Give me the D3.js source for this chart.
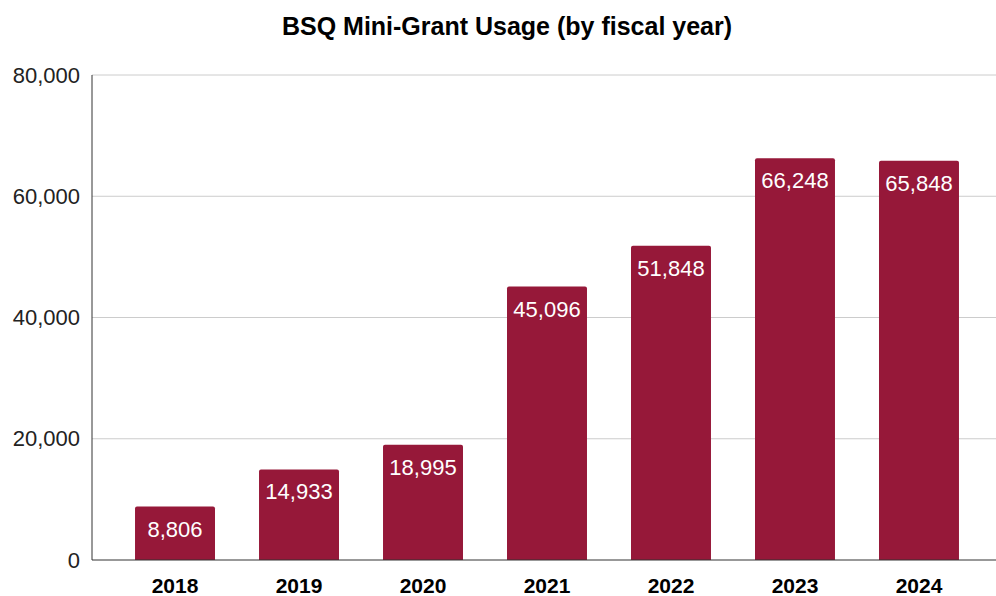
<!DOCTYPE html>
<html lang="en">
<head>
<meta charset="UTF-8"/>
<title>BSQ Mini-Grant Usage</title>
<script src="https://d3js.org/d3.v7.min.js"></script>
<style>
    body { margin: 0; background: #fff; }
    text { font-family: "Liberation Sans", Arial, sans-serif; }
</style>
</head>
<body>
<script>
    var years = ["2018", "2019", "2020", "2021", "2022", "2023", "2024"];
    var usage = [8806, 14933, 18995, 45096, 51848, 66248, 65848];
    var yTicks = [0, 20000, 40000, 60000, 80000];

    var w = 996, h = 596;
    var plotLeft = 92, plotTop = 75, plotBottom = 560;

    var svg = d3.select("body").append("svg")
        .attr("width", w)
        .attr("height", h);

    var x = d3.scaleBand()
        .domain(years)
        .range([plotLeft, 1002])
        .paddingInner(0.355)
        .paddingOuter(0.347);

    var y = d3.scaleLinear()
        .domain([0, 80000])
        .range([plotBottom, plotTop]);

    var fmt = d3.format(",");

    // title
    svg.append("text")
        .attr("x", 507)
        .attr("y", 35)
        .attr("text-anchor", "middle")
        .style("font-weight", "bold")
        .style("font-size", "25px")
        .text("BSQ Mini-Grant Usage (by fiscal year)");

    // gridlines
    svg.selectAll(".grid")
        .data(yTicks.filter(function(d) { return d > 0; }))
        .enter().append("line")
        .attr("x1", plotLeft).attr("x2", w)
        .attr("y1", function(d) { return y(d); })
        .attr("y2", function(d) { return y(d); })
        .attr("stroke", "#cccccc")
        .attr("stroke-width", 1);

    // y labels
    svg.selectAll(".ylab")
        .data(yTicks)
        .enter().append("text")
        .attr("x", 80)
        .attr("y", function(d) { return y(d); })
        .attr("dy", "0.35em")
        .attr("text-anchor", "end")
        .style("font-size", "22px")
        .attr("fill", "#222")
        .text(function(d) { return fmt(d); });

    // bars with slightly rounded tops
    svg.selectAll(".bar")
        .data(usage)
        .enter().append("path")
        .attr("fill", "#961839")
        .attr("d", function(d, i) {
            var x0 = x(years[i]), x1 = x0 + x.bandwidth();
            var yt = y(d), r = 2;
            return "M" + x0 + "," + plotBottom +
                "V" + (yt + r) +
                "Q" + x0 + "," + yt + " " + (x0 + r) + "," + yt +
                "H" + (x1 - r) +
                "Q" + x1 + "," + yt + " " + x1 + "," + (yt + r) +
                "V" + plotBottom + "Z";
        });

    // value labels
    svg.selectAll(".val")
        .data(usage)
        .enter().append("text")
        .attr("x", function(d, i) { return x(years[i]) + x.bandwidth() / 2; })
        .attr("y", function(d) { return y(d) + 30; })
        .attr("text-anchor", "middle")
        .attr("fill", "#fff")
        .style("font-size", "22px")
        .text(function(d) { return fmt(d); });

    // axis lines
    svg.append("line")
        .attr("x1", plotLeft).attr("x2", plotLeft)
        .attr("y1", plotTop).attr("y2", plotBottom)
        .attr("stroke", "#333").attr("stroke-width", 1);
    svg.append("line")
        .attr("x1", plotLeft).attr("x2", w)
        .attr("y1", plotBottom).attr("y2", plotBottom)
        .attr("stroke", "#333").attr("stroke-width", 1);

    // x labels
    svg.selectAll(".xlab")
        .data(years)
        .enter().append("text")
        .attr("x", function(d) { return x(d) + x.bandwidth() / 2; })
        .attr("y", 593)
        .attr("text-anchor", "middle")
        .style("font-weight", "bold")
        .style("font-size", "21px")
        .text(function(d) { return d; });
</script>
</body>
</html>
